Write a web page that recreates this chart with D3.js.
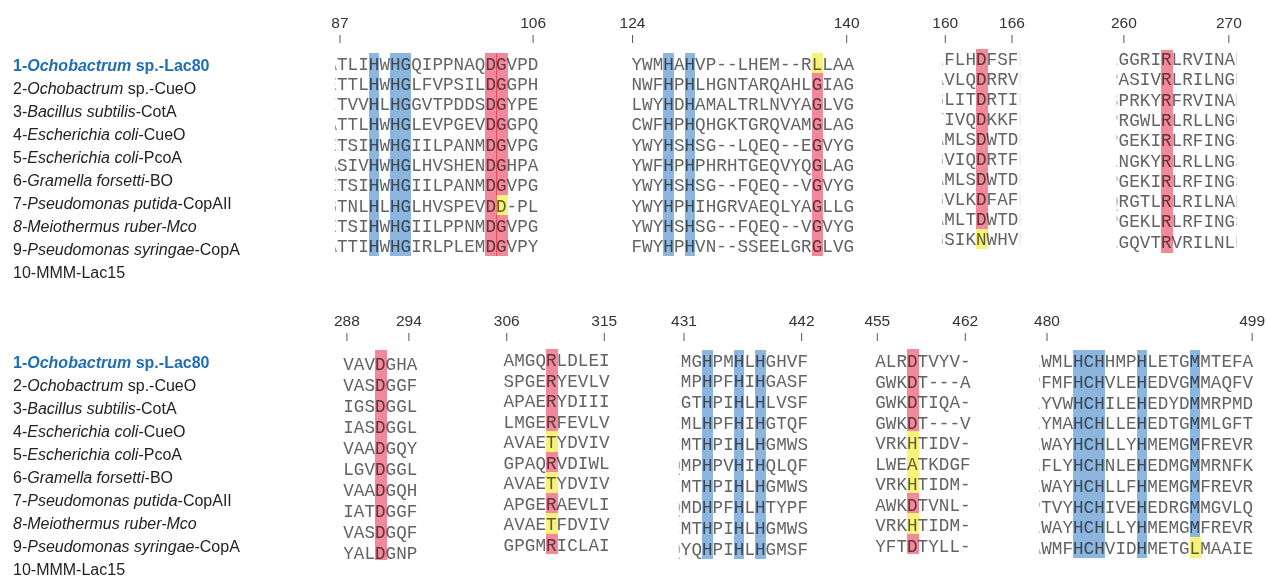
<!DOCTYPE html>
<html>
<head>
<meta charset="utf-8">
<script src="https://cdn.jsdelivr.net/npm/d3@7"></script>
<style>
  body { margin: 0; background: #fff; }
  svg { display: block; isolation: isolate; }
  .seq { font-family: "Courier New", "Liberation Mono", monospace; font-size: 17.6px; fill: #636363; }
  .edge { fill: #999; }
  .lab { font-family: Arial, "Liberation Sans", sans-serif; font-size: 16px; fill: #222; }
  .num { font-family: Arial, "Liberation Sans", sans-serif; font-size: 15.5px; fill: #333; }
  .marks rect { mix-blend-mode: multiply; }
</style>
</head>
<body>
<svg id="chart" width="1266" height="577"></svg>
<script>
// species labels: [text, italic]
const labelParts = [
    [["1-", 0], ["Ochobactrum", 1], [" sp.-Lac80", 0]],
    [["2-", 0], ["Ochobactrum", 1], [" sp.-CueO", 0]],
    [["3-", 0], ["Bacillus subtilis", 1], ["-CotA", 0]],
    [["4-", 0], ["Escherichia coli", 1], ["-CueO", 0]],
    [["5-", 0], ["Escherichia coli", 1], ["-PcoA", 0]],
    [["6-", 0], ["Gramella forsetti", 1], ["-BO", 0]],
    [["7-", 0], ["Pseudomonas putida", 1], ["-CopAII", 0]],
    [["8-Meiothermus ruber-Mco", 1]],
    [["9-", 0], ["Pseudomonas syringae", 1], ["-CopA", 0]],
    [["10-MMM-Lac15", 0]]
];

// alignment blocks (one string per sequence row)
const seq87 = ["TLIHWHGQIPPNAQDGVPD", "TTLHWHGLFVPSILDGGPH", "TVVHLHGGVTPDDSDGYPE", "TTLHWHGLEVPGEVDGGPQ",
    "TSIHWHGIILPANMDGVPG", "SIVHWHGLHVSHENDGHPA", "TSIHWHGIILPANMDGVPG", "TNLHLHGLHVSPEVDD-PL",
    "TSIHWHGIILPPNMDGVPG", "TTIHWHGIRLPLEMDGVPY"];
const seq124 = ["YWMHAHVP--LHEM--RLLAA", "NWFHPHLHGNTARQAHLGIAG", "LWYHDHAMALTRLNVYAGLVG", "CWFHPHQHGKTGRQVAMGLAG",
    "YWYHSHSG--LQEQ--EGVYG", "YWFHPHPHRHTGEQVYQGLAG", "YWYHSHSG--FQEQ--VGVYG", "YWYHPHIHGRVAEQLYAGLLG",
    "YWYHSHSG--FQEQ--VGVYG", "FWYHPHVN--SSEELGRGLVG"];
const seq160 = ["FLHDFSF", "VLQDRRV", "LITDRTI", "IVQDKKF", "MLSDWTD", "VIQDRTF", "MLSDWTD", "VLKDFAF", "MLTDWTD", "SIKNWHV"];
const seq260 = ["GGRIRLRVINA", "ASIVRLRILNG", "PRKYRFRVINA", "RGWLRLRLLNG", "GEKIRLRFING",
    "NGKYRLRLLNG", "GEKIRLRFING", "RGTLRLRILNA", "GEKLRLRFING", "GQVTRVRILNL"];
const seq288 = ["VAVDGHA", "VASDGGF", "IGSDGGL", "IASDGGL", "VAADGQY", "LGVDGGL", "VAADGQH", "IATDGGF", "VASDGQF", "YALDGNP"];
const seq306 = ["AMGQRLDLEI", "SPGERYEVLV", "APAERYDIII", "LMGERFEVLV", "AVAETYDVIV",
    "GPAQRVDIWL", "AVAETYDVIV", "APGERAEVLI", "AVAETFDVIV", "GPGMRICLAI"];
const seq431 = ["MGHPMHLHGHVF", "MPHPFHIHGASF", "GTHPIHLHLVSF", "MLHPFHIHGTQF", "MTHPIHLHGMWS",
    "MPHPVHIHQLQF", "MTHPIHLHGMWS", "MDHPFHLHTYPF", "MTHPIHLHGMWS", "YQHPIHLHGMSF"];
const seq455 = ["ALRDTVYV-", "GWKDT---A", "GWKDTIQA-", "GWKDT---V", "VRKHTIDV-",
    "LWEATKDGF", "VRKHTIDM-", "AWKDTVNL-", "VRKHTIDM-", "YFTDTYLL-"];
const seq480 = ["WMLHCHHMPHLETGMMTEFA", "FMFHCHVLEHEDVGMMAQFV", "YVWHCHILEHEDYDMMRPMD", "YMAHCHLLEHEDTGMMLGFT",
    "WAYHCHLLYHMEMGMFREVR", "FLYHCHNLEHEDMGMMRNFK", "WAYHCHLLFHMEMGMFREVR", "TVYHCHIVEHEDRGMMGVLQ",
    "WAYHCHLLYHMEMGMFREVR", "WMFHCHVIDHMETGLMAAIE"];

// residues cut at the block edges (only a sliver shows)
const pre87 = "AEIAEAEGEA", pre160 = "LAGTAGAGAG", pre260 = "LPSPPLPQPL", pre431 = "IIIIIQIQIQ", pre480 = "LPLLLLLPLA";
const post160 = "EDEEDEDEDE", post260 = "EDEGSSSESE";

// highlighted columns: [column, per-row code] b = blue, r = red, y = yellow
const B10 = "bbbbbbbbbb";
const marks87 = [[3, B10], [5, B10], [6, B10], [14, "rrrrrrrrrr"], [15, "rrrrrrryrr"]];
const marks124 = [[3, B10], [5, B10], [17, "yrrrrrrrrr"]];
const marks160 = [[3, "rrrrrrrrry"]];
const marks260 = [[4, "rrrrrrrrrr"]];
const marks288 = [[3, "rrrrrrrrrr"]];
const marks306 = [[4, "rrrryryryr"]];
const marks431 = [[2, B10], [5, B10], [7, B10]];
const marks455 = [[3, "rrrryyyryr"]];
const marks480 = [[3, B10], [4, B10], [5, B10], [9, B10], [14, "bbbbbbbbby"]];

// residue numbers and the alignment column they sit over
const ticks87 = [[87, 0.28], [106, 18.5]];
const ticks124 = [[124, 0.1], [140, 20.3]];
const ticks160 = [[160, 0.1], [166, 6.4]];
const ticks260 = [[260, 0.5], [270, 10.4]];
const ticks288 = [[288, 0.35], [294, 6.2]];
const ticks306 = [[306, 0.3], [315, 9.5]];
const ticks431 = [[431, 0.3], [442, 11.4]];
const ticks455 = [[455, 0.2], [462, 8.5]];
const ticks480 = [[480, 0.55], [499, 19.9]];

const markColor = { b: "#8db6de", r: "#f2899a", y: "#f6f27c" };

// layout
const CW = 10.6;
const panels = [
    { labelY: 71, labelStep: 22.96, numY: 28, tickY: [35, 43] },
    { labelY: 367.5, labelStep: 23.05, numY: 326, tickY: [333, 341] }
];
const blocks = [
    { seqs: seq87, marks: marks87, ticks: ticks87, pre: pre87, post: "", x0: 337, top: 53, rh: 20.3, base: 16.5, panel: 0 },
    { seqs: seq124, marks: marks124, ticks: ticks124, pre: "", post: "", x0: 631.5, top: 53, rh: 20.3, base: 16.5, panel: 0 },
    { seqs: seq160, marks: marks160, ticks: ticks160, pre: pre160, post: post160, x0: 944.2, top: 49, rh: 20, base: 16, panel: 0 },
    { seqs: seq260, marks: marks260, ticks: ticks260, pre: pre260, post: post260, x0: 1118.6, top: 50, rh: 20.3, base: 15, panel: 0 },
    { seqs: seq288, marks: marks288, ticks: ticks288, pre: "", post: "", x0: 343.2, top: 350, rh: 21, base: 20, panel: 1 },
    { seqs: seq306, marks: marks306, ticks: ticks306, pre: "", post: "", x0: 503.6, top: 349, rh: 20.5, base: 17, panel: 1 },
    { seqs: seq431, marks: marks431, ticks: ticks431, pre: pre431, post: "", x0: 680.8, top: 350, rh: 20.9, base: 16.5, panel: 1 },
    { seqs: seq455, marks: marks455, ticks: ticks455, pre: "", post: "", x0: 875.2, top: 349, rh: 20.5, base: 18, panel: 1 },
    { seqs: seq480, marks: marks480, ticks: ticks480, pre: pre480, post: "", x0: 1041.2, top: 350, rh: 20.8, base: 17, panel: 1 }
];

const svg = d3.select("#chart");
svg.append("rect").attr("width", 1266).attr("height", 577).attr("fill", "#fff");
const defs = svg.append("defs");

// species labels, one list per panel
panels.forEach(p => {
    const lab = svg.append("g");
    labelParts.forEach((parts, i) => {
        const t = lab.append("text")
            .attr("class", "lab")
            .attr("x", 13)
            .attr("y", p.labelY + i * p.labelStep);
        if (i === 0) t.style("fill", "#1f6db3").style("font-weight", "bold");
        parts.forEach(([txt, it]) => {
            t.append("tspan").text(txt).style("font-style", it ? "italic" : "normal");
        });
    });
});

// split a per-row code into runs of one colour
function runs(code) {
    const out = [];
    let s = 0;
    for (let i = 1; i <= code.length; i++) {
        if (i === code.length || code[i] !== code[s]) {
            if (code[s] !== ".") out.push({ c: code[s], r0: s, r1: i });
            s = i;
        }
    }
    return out;
}

blocks.forEach((b, bi) => {
    const n = b.seqs[0].length;
    const p = panels[b.panel];
    const x = d3.scaleLinear().domain([0, n]).range([b.x0, b.x0 + n * CW]);
    const y = d3.scaleLinear().domain([0, b.seqs.length]).range([b.top, b.top + b.seqs.length * b.rh]);

    const clipId = "clip" + bi;
    const left = x(0) - 2;
    const right = x(n) + 1.8;
    defs.append("clipPath").attr("id", clipId)
        .append("rect")
        .attr("x", left).attr("y", b.top - 10)
        .attr("width", right - left).attr("height", b.seqs.length * b.rh + 20);

    const g = svg.append("g");

    // residue numbers
    const tk = g.selectAll(".tk").data(b.ticks).enter().append("g").attr("class", "tk");
    tk.append("text")
        .attr("class", "num")
        .attr("x", d => x(d[1]))
        .attr("y", p.numY)
        .attr("text-anchor", "middle")
        .text(d => d[0]);
    tk.append("line")
        .attr("x1", d => x(d[1])).attr("x2", d => x(d[1]))
        .attr("y1", p.tickY[0]).attr("y2", p.tickY[1])
        .attr("stroke", "#555").attr("stroke-width", 1);

    // sequence letters
    const seqG = g.append("g").attr("clip-path", `url(#${clipId})`);
    seqG.selectAll("text.main").data(b.seqs).enter().append("text")
        .attr("class", "seq main")
        .attr("text-anchor", "middle")
        .attr("y", (d, i) => y(i) + b.base)
        .attr("x", () => d3.range(n).map(k => x(k + 0.5)).join(" "))
        .text(d => d);

    // clipped neighbours at the block edges
    const edges = [];
    b.seqs.forEach((d, i) => {
        if (b.pre) edges.push({ ch: b.pre[i], col: -0.5, row: i });
        if (b.post) edges.push({ ch: b.post[i], col: n + 0.5, row: i });
    });
    seqG.selectAll("text.edge").data(edges).enter().append("text")
        .attr("class", "seq edge")
        .attr("text-anchor", "middle")
        .attr("x", d => x(d.col))
        .attr("y", d => y(d.row) + b.base)
        .text(d => d.ch);

    // highlight bars, blended over the letters
    const cells = [];
    b.marks.forEach(([col, code]) => runs(code).forEach(r => cells.push({ col, ...r })));
    g.append("g").attr("class", "marks")
        .selectAll("rect").data(cells).enter().append("rect")
        .attr("shape-rendering", "crispEdges")
        .attr("x", d => Math.round(x(d.col)))
        .attr("width", d => Math.round(x(d.col + 1)) - Math.round(x(d.col)) + (d.c === "b" ? 0 : 1))
        .attr("y", d => Math.round(y(d.r0)))
        .attr("height", d => Math.round(y(d.r1)) - Math.round(y(d.r0)))
        .attr("fill", d => markColor[d.c]);
});
</script>
</body>
</html>
